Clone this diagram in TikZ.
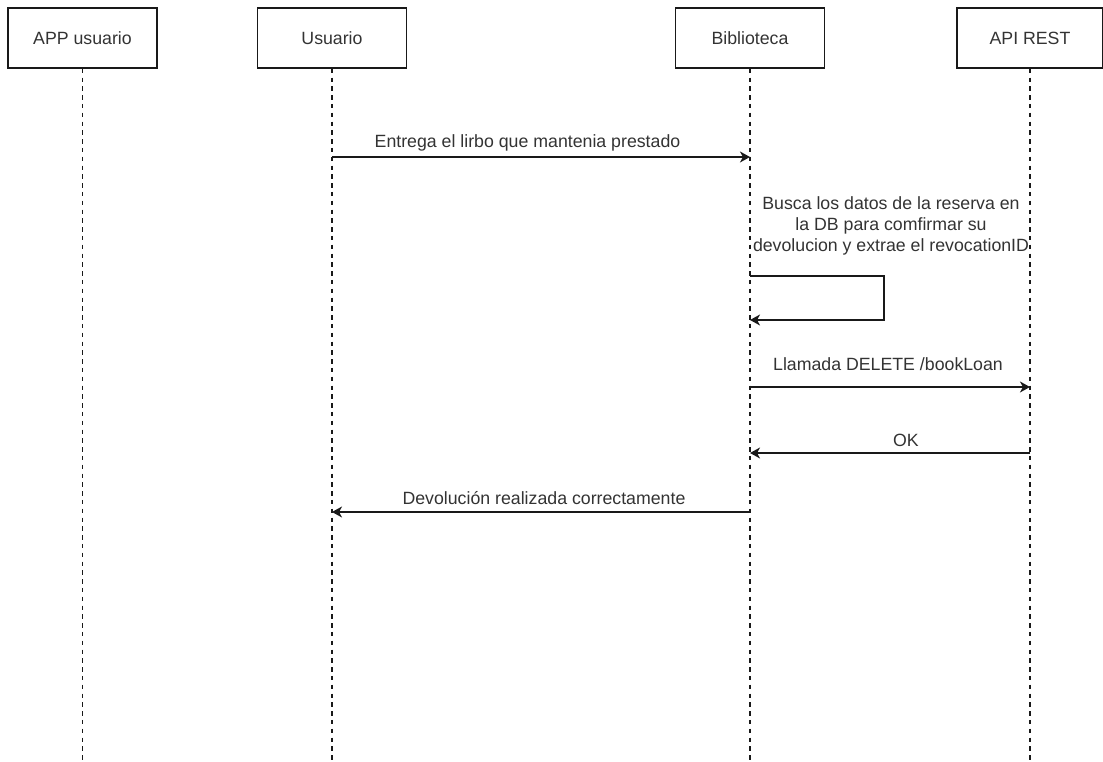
\documentclass[tikz,border=0pt]{standalone}
\usepackage{fontspec}
\setmainfont{Liberation Sans}
\usetikzlibrary{arrows.meta}
\begin{document}
\begin{tikzpicture}[x=0.75pt,y=-0.75pt,
  lbl/.style={text=black!80, font=\fontsize{13.3}{15.75}\selectfont, inner sep=0pt},
  actor/.style={draw=black!90, line width=1.1pt, minimum height=45pt, inner sep=0pt,
    text=black!80, font=\fontsize{13.3}{15.75}\selectfont},
  lifeline/.style={draw=black!90, line width=1.1pt, dash pattern=on 3.3pt off 3.3pt},
  msg/.style={draw=black!90, line width=1.1pt,
    -{Stealth[length=7.5pt,width=8.2pt,inset=2.2pt]}}]
  \useasboundingbox (0,0) rectangle (1103,762);

  % participants
  \node[actor, minimum width=111.75pt] (app) at (82.5,38) {APP usuario};
  \node[actor, minimum width=111.75pt] (usr) at (332,38) {Usuario};
  \node[actor, minimum width=111.75pt] (bib) at (750,38) {Biblioteca};
  \node[actor, minimum width=109.5pt] (api) at (1030,38) {API REST};

  % lifeline ends
  \coordinate (appEnd) at (82.5,760);
  \coordinate (usrEnd) at (332,760);
  \coordinate (bibEnd) at (750,760);
  \coordinate (apiEnd) at (1030,760);
  \draw[lifeline] (app.south) -- (appEnd);
  \draw[lifeline] (usr.south) -- (usrEnd);
  \draw[lifeline] (bib.south) -- (bibEnd);
  \draw[lifeline] (api.south) -- (apiEnd);

  % message anchors on the lifelines
  \coordinate (u1) at (332,157);
  \coordinate (b1) at (750,157);
  \coordinate (b2) at (750,276);
  \coordinate (b2r) at (884,276);
  \coordinate (b3r) at (884,320);
  \coordinate (b3) at (750,320);
  \coordinate (b4) at (750,387);
  \coordinate (a4) at (1030,387);
  \coordinate (a5) at (1030,453);
  \coordinate (b5) at (750,453);
  \coordinate (b6) at (750,512);
  \coordinate (u6) at (332,512);

  % messages
  \draw[msg] (u1) -- (b1);
  \node[lbl] (m1) at (527.5,143) {Entrega el lirbo que mantenia prestado};

  \draw[msg] (b2) -- (b2r) -- (b3r) -- (b3);
  \node[lbl, align=center] (m2) at (891,226)
    {Busca los datos de la reserva en\\la DB para comfirmar su\\devolucion y extrae el revocationID};

  \draw[msg] (b4) -- (a4);
  \node[lbl] (m3) at (888,364) {Llamada DELETE /bookLoan};

  \draw[msg] (a5) -- (b5);
  \node[lbl] (m4) at (906,440) {OK};

  \draw[msg] (b6) -- (u6);
  \node[lbl] (m5) at (544,498) {Devolución realizada correctamente};
\end{tikzpicture}
\end{document}
